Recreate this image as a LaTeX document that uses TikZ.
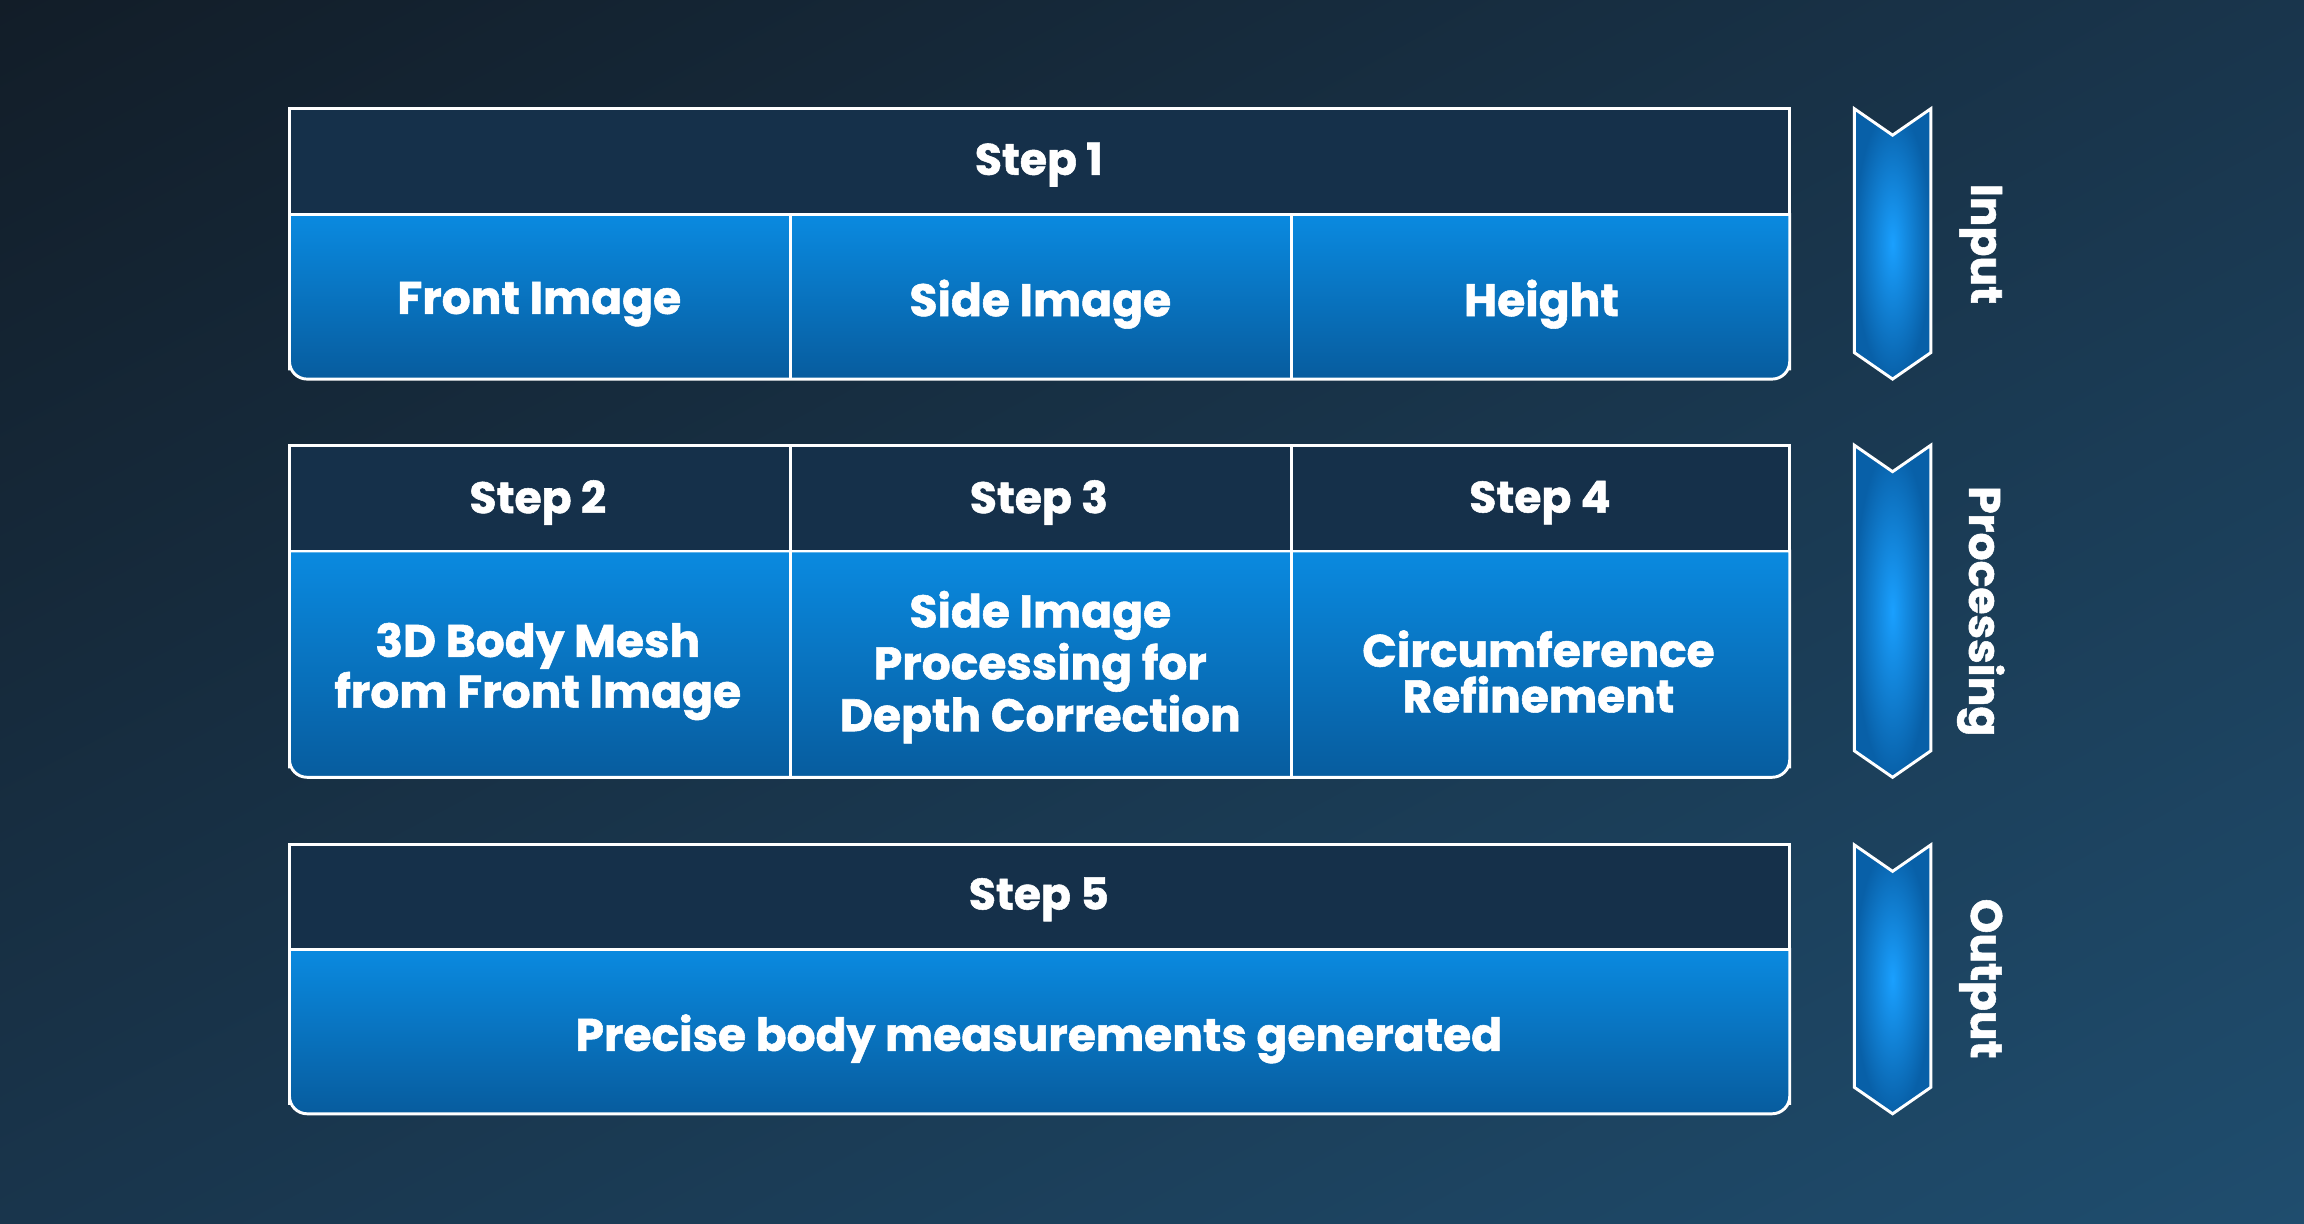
\documentclass[tikz,border=0pt]{standalone}
\usepackage{fontspec}
\setmainfont{Poppins}[FakeBold=1.2]
\usetikzlibrary{shadings}
\definecolor{bgA}{HTML}{121D28}
\definecolor{bgB}{HTML}{1F4D6E}
\definecolor{bgM}{HTML}{19354C}
\definecolor{hdr}{HTML}{15304A}
\definecolor{blT}{HTML}{0A8AE0}
\definecolor{blB}{HTML}{075C9E}
\definecolor{arC}{HTML}{1AA0FF}
\definecolor{arE}{HTML}{0860A8}
\tikzset{
  hdrbox/.style={fill=hdr,draw=white,line width=1pt},
  blubox/.style={top color=blT,bottom color=blB,draw=white,line width=1pt},
  lbl/.style={text=white,font=\bfseries\fontsize{15.5}{15.5}\selectfont,align=center},
  hlbl/.style={text=white,font=\bfseries\fontsize{15}{16}\selectfont},
  chev/.style={inner color=arC,outer color=arE,draw=white,line width=1pt},
  side/.style={text=white,font=\bfseries\fontsize{15}{16}\selectfont,rotate=-90}
}
\newcommand{\blk}[3]{%
  \draw[blubox] (197,#2) -- (197,#3-6) [rounded corners=6pt] -- (197,#3) -- (1218,#3) [sharp corners] -- (1218,#3-6) -- (1218,#2) -- cycle;
  \draw[hdrbox] (197,#1) rectangle (1218,#2);}
\newcommand{\chv}[2]{%
  \draw[chev] (1262,#1) -- (1288,#1+18) -- (1314,#1) -- (1314,#2-18) -- (1288,#2) -- (1262,#2-18) -- cycle;}
\begin{document}
\begin{tikzpicture}[x=0.5pt,y=-0.5pt]
\shade[upper left=bgA,upper right=bgM,lower left=bgM,lower right=bgB] (0,0) rectangle (1568,833);
\useasboundingbox (0,0) rectangle (1568,833);
% block 1
\blk{74}{146}{258}
\draw[white,line width=1pt] (538,146) -- (538,258) (879,146) -- (879,258);
\node[hlbl] (s1) at (707,112) {Step 1};
\node[lbl] (fi) at (367,207) {Front Image};
\node[lbl] (si) at (708,207) {Side Image};
\node[lbl] (he) at (1049,207) {Height};
% block 2
\blk{303}{375}{529}
\draw[white,line width=1pt] (538,303) -- (538,529) (879,303) -- (879,529);
\node[hlbl] (s2) at (366,342) {Step 2};
\node[hlbl] (s3) at (707,342) {Step 3};
\node[hlbl] (s4) at (1048,342) {Step 4};
\node[lbl] (m2) at (366,457) {3D Body Mesh\\from Front Image};
\node[lbl] (m3) at (708,454) {Side Image\\Processing for\\Depth Correction};
\node[lbl] (m4) at (1047,457) {Circumference\\Refinement};
% block 3
\blk{575}{646}{758}
\node[hlbl] (s5) at (707,612) {Step 5};
\node[lbl] (m5) at (707,707) {Precise body measurements generated};
% chevrons
\chv{74}{258}
\chv{303}{529}
\chv{575}{758}
\node[side] (a1) at (1348,166) {Input};
\node[side] (a2) at (1348,416) {Processing};
\node[side] (a3) at (1348,666) {Output};
\end{tikzpicture}
\end{document}
